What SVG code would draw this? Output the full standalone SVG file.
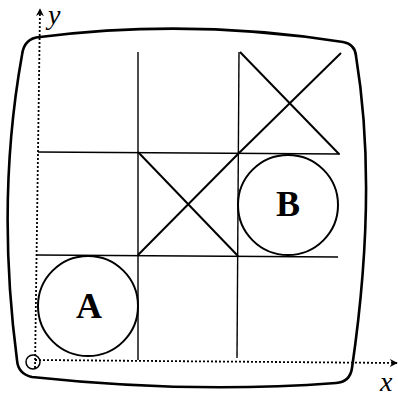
<svg xmlns="http://www.w3.org/2000/svg" width="398" height="398" viewBox="0 0 398 398">
<defs>
<style>
.board{fill:none;stroke:#000;stroke-width:2.6;stroke-linejoin:round}
.grid{stroke:#000;stroke-width:1.4;fill:none}
.mark{stroke:#000;stroke-width:2;fill:none}
.piece{fill:#fff;stroke:#000;stroke-width:2}
.axis{stroke:#000;stroke-width:1.8;stroke-dasharray:2,2;fill:none}
.lbl{font-family:"Liberation Serif","Times New Roman",serif;font-weight:bold;font-size:36px;text-anchor:middle}
.ax{font-family:"Liberation Serif","Times New Roman",serif;font-style:italic;font-size:28px}
</style>
<marker id="arr" viewBox="0 0 10 10" refX="9" refY="5" markerWidth="9" markerHeight="8" markerUnits="userSpaceOnUse" orient="auto">
<path d="M0,0 L10,5 L0,10 L3,5 Z" fill="#000"/>
</marker>
</defs>
<g id="board">
<path class="board" d="M40,37 Q190,18 343,42 Q355,44 356,56 Q378,190 352,368 Q350,382 336,383 Q190,394 32,377 Q18,374 17,360 Q-4,200 22,55 Q24,38 40,37 Z"/>
</g>
<g id="grid">
<line class="grid" x1="138" y1="52" x2="138" y2="360"/>
<line class="grid" x1="239" y1="52" x2="237" y2="358"/>
<line class="grid" x1="38" y1="152" x2="340" y2="154"/>
<line class="grid" x1="37" y1="255" x2="338" y2="257"/>
</g>
<g id="x-top-right">
<line class="mark" x1="240" y1="52" x2="339" y2="154"/>
<line class="mark" x1="341" y1="53" x2="239" y2="153"/>
</g>
<g id="x-center">
<line class="mark" x1="239" y1="153" x2="138" y2="255"/>
<line class="mark" x1="138" y1="152" x2="238" y2="256"/>
</g>
<g id="piece-A">
<circle class="piece" cx="88" cy="306" r="50"/>
<text class="lbl" x="89" y="318">A</text>
</g>
<g id="piece-B">
<circle class="piece" cx="288" cy="205" r="50"/>
<text class="lbl" x="288" y="216">B</text>
</g>
<g id="connectors">
<line class="axis" x1="35" y1="368" x2="40" y2="9" marker-end="url(#arr)"/>
<line class="axis" x1="35" y1="360" x2="397" y2="363" marker-end="url(#arr)"/>
<circle cx="33" cy="362" r="7" fill="none" stroke="#000" stroke-width="1.5"/>
</g>
<g id="labels">
<text class="ax" x="48" y="24">y</text>
<text class="ax" x="380" y="391">x</text>
</g>
</svg>
